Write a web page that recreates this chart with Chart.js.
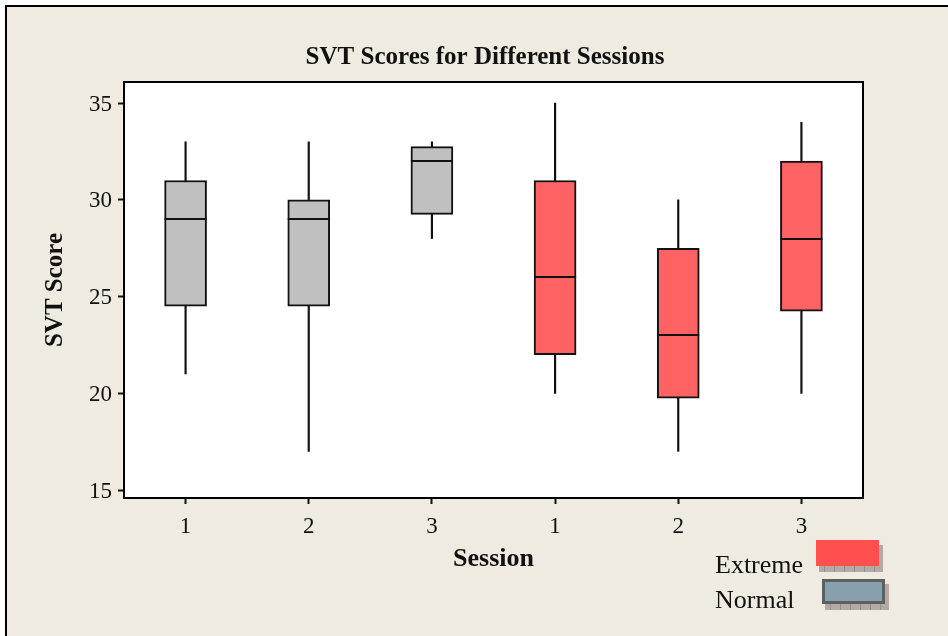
<!DOCTYPE html>
<html>
<head>
<meta charset="utf-8">
<script src="https://cdn.jsdelivr.net/npm/chart.js@4.4.1/dist/chart.umd.min.js"></script>
<style>
  html, body { margin: 0; padding: 0; background: #ffffff; }
  #wrap { width: 948px; height: 636px; }
</style>
</head>
<body>
<div id="wrap"><canvas id="c" width="948" height="636"></canvas></div>
<script>
// Session labels along the x axis (three Normal, then three Extreme)
const sessions = ['1', '2', '3', '1', '2', '3'];
const groups = ['Normal', 'Normal', 'Normal', 'Extreme', 'Extreme', 'Extreme'];

// Box-plot statistics of the SVT score per session
const whiskerLow  = [21, 17, 28, 20, 17, 20];
const q1          = [24.5, 24.5, 29.25, 22, 19.75, 24.25];
const median      = [29, 29, 32, 26, 23, 28];
const q3          = [31, 30, 32.75, 31, 27.5, 32];
const whiskerHigh = [33, 33, 33, 35, 30, 34];

// Y axis tick values
const yTicks = [15, 20, 25, 30, 35];

// Legend entries
const legendLabels = ['Extreme', 'Normal'];

const titleText = 'SVT Scores for Different Sessions';
const xTitle = 'Session';
const yTitle = 'SVT Score';

const SERIF = '"Liberation Serif", "Times New Roman", serif';
const INK = '#111111';
const BEIGE = '#efebe1';
const boxFill = { Normal: '#c0c0c0', Extreme: '#ff6262' };
const legendFill = { Extreme: '#ff4f4f', Normal: '#87a0ad' };

const boxes = q1.map((v, i) => [v, q3[i]]);
const whiskers = whiskerLow.map((v, i) => [v, whiskerHigh[i]]);

// Page frame, plot panel and title
const framePlugin = {
  id: 'frame',
  beforeDraw(chart) {
    const ctx = chart.ctx;
    const a = chart.chartArea;
    ctx.save();
    ctx.fillStyle = '#ffffff';
    ctx.fillRect(0, 0, chart.width, chart.height);
    ctx.fillStyle = BEIGE;
    ctx.fillRect(5, 5, chart.width - 5, chart.height - 5);
    ctx.fillStyle = '#000000';
    ctx.fillRect(5, 5, 2, chart.height - 5);
    ctx.fillRect(5, 5, chart.width - 5, 2);
    ctx.fillStyle = '#ffffff';
    ctx.fillRect(a.left, a.top, a.right - a.left, a.bottom - a.top);
    ctx.fillStyle = INK;
    ctx.font = 'bold 25px ' + SERIF;
    ctx.textAlign = 'center';
    ctx.textBaseline = 'middle';
    ctx.fillText(titleText, 485, 58);
    ctx.restore();
  },
  afterDraw(chart) {
    const ctx = chart.ctx;
    const a = chart.chartArea;
    ctx.save();
    ctx.strokeStyle = '#000000';
    ctx.lineWidth = 2;
    ctx.strokeRect(a.left, a.top, a.right - a.left, a.bottom - a.top);
    ctx.restore();
  }
};

// Median lines drawn across each box
const medianPlugin = {
  id: 'medians',
  afterDatasetsDraw(chart) {
    const ctx = chart.ctx;
    const meta = chart.getDatasetMeta(0);
    const y = chart.scales.y;
    ctx.save();
    ctx.strokeStyle = INK;
    ctx.lineWidth = 2;
    meta.data.forEach((bar, i) => {
      const py = Math.round(y.getPixelForValue(median[i]));
      ctx.beginPath();
      ctx.moveTo(bar.x - bar.width / 2, py);
      ctx.lineTo(bar.x + bar.width / 2, py);
      ctx.stroke();
    });
    ctx.restore();
  }
};

// Legend with text on the left and shadowed swatches on the right
const legendPlugin = {
  id: 'sideLegend',
  afterDraw(chart) {
    const ctx = chart.ctx;
    ctx.save();
    const rows = [
      { label: legendLabels[0], x: 816, y: 540, w: 63, h: 26, border: null, base: 573 },
      { label: legendLabels[1], x: 822, y: 579, w: 63, h: 25, border: '#5f5f5f', base: 608 }
    ];
    rows.forEach(r => {
      // hatched drop shadow
      const sx = r.x + 3, sy = r.y + 5;
      ctx.fillStyle = '#b3aaa6';
      ctx.fillRect(sx, sy, r.w + 1, r.h + 1);
      ctx.strokeStyle = 'rgba(120,110,110,0.45)';
      ctx.lineWidth = 1;
      for (let gx = sx + 5; gx < sx + r.w; gx += 10) {
        ctx.beginPath(); ctx.moveTo(gx + 0.5, sy); ctx.lineTo(gx + 0.5, sy + r.h + 1); ctx.stroke();
      }
      ctx.fillStyle = legendFill[r.label];
      ctx.fillRect(r.x, r.y, r.w, r.h);
      if (r.border) {
        ctx.strokeStyle = r.border;
        ctx.lineWidth = 3;
        ctx.strokeRect(r.x + 1.5, r.y + 1.5, r.w - 3, r.h - 3);
      }
      ctx.fillStyle = INK;
      ctx.font = '26px ' + SERIF;
      ctx.textAlign = 'left';
      ctx.textBaseline = 'alphabetic';
      ctx.fillText(r.label, 715, r.base);
    });
    ctx.restore();
  }
};

new Chart(document.getElementById('c'), {
  type: 'bar',
  data: {
    labels: sessions,
    datasets: [
      {
        label: 'box',
        data: boxes,
        backgroundColor: groups.map(g => boxFill[g]),
        borderColor: INK,
        borderWidth: 2,
        borderSkipped: false,
        barThickness: 42,
        grouped: false,
        order: 0
      },
      {
        label: 'whisker',
        data: whiskers,
        backgroundColor: INK,
        borderWidth: 0,
        barThickness: 1.5,
        grouped: false,
        order: 1
      }
    ]
  },
  options: {
    responsive: false,
    animation: false,
    devicePixelRatio: 1,
    layout: { padding: { left: 20, top: 82, right: 85, bottom: 50 } },
    plugins: {
      legend: { display: false },
      title: { display: false },
      tooltip: { enabled: false }
    },
    scales: {
      x: {
        type: 'category',
        offset: true,
        grid: { offset: false, drawOnChartArea: false, drawTicks: true, tickLength: 6, tickColor: INK, tickWidth: 2 },
        border: { display: false },
        ticks: { color: INK, font: { family: SERIF, size: 23 }, padding: 9 },
        title: { display: true, text: xTitle, color: INK, font: { family: SERIF, size: 26, weight: 'bold' }, padding: { top: 0, bottom: 11 } },
        afterFit(s) { s.height = 88; }
      },
      y: {
        type: 'linear',
        min: 14.59,
        max: 36.09,
        afterBuildTicks(s) { s.ticks = yTicks.map(v => ({ value: v })); },
        grid: { drawOnChartArea: false, drawTicks: true, tickLength: 6, tickColor: INK, tickWidth: 2 },
        border: { display: false },
        ticks: { color: INK, font: { family: SERIF, size: 23 }, padding: 6, labelOffset: 1.5 },
        title: { display: true, text: yTitle, color: INK, font: { family: SERIF, size: 25, weight: 'bold' }, padding: { top: 21, bottom: 0 } },
        afterFit(s) { s.width = 104; }
      }
    }
  },
  plugins: [framePlugin, medianPlugin, legendPlugin]
});
</script>
</body>
</html>
